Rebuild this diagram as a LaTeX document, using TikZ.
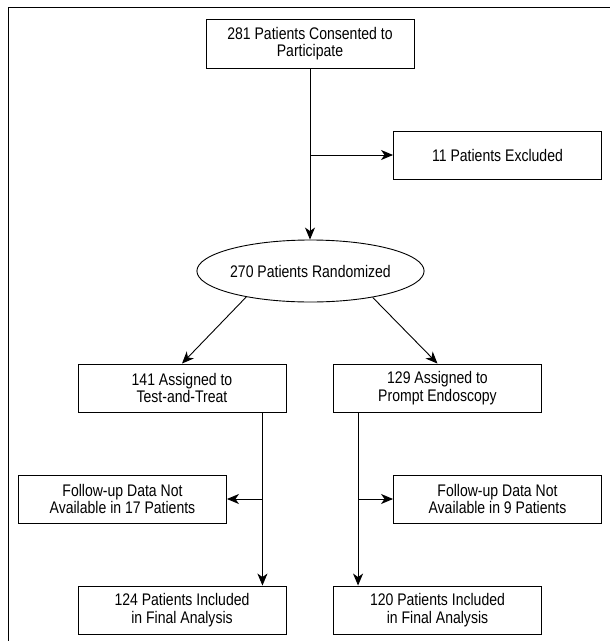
\documentclass[tikz,border=0pt]{standalone}
\usepackage{fontspec}
\setmainfont{Liberation Sans}[FakeStretch=0.835]
\usetikzlibrary{arrows.meta,shapes.geometric}
\begin{document}
\begin{tikzpicture}[x=1pt,y=-1pt,
  every node/.style={font=\fontsize{16.8}{17.6}\selectfont, align=center, inner sep=0pt},
  boxnode/.style={draw, line width=0.9pt, minimum width=208pt, minimum height=48pt},
  ovalnode/.style={draw, ellipse, line width=0.9pt, minimum width=209pt, minimum height=62pt},
  conn/.style={line width=0.9pt, -{Stealth[length=12pt,width=10pt,inset=3.5pt]}},
  frameline/.style={line width=1.3pt}]
\useasboundingbox (0,0) rectangle (610,641);
\draw[frameline] (8.8,641) -- (8.8,7.6) -- (610,7.6);

\node[boxnode, minimum height=49pt] (top) at (310,43.5) {281 Patients Consented to\\Participate};
\node[boxnode] (excl) at (497.5,155) {11 Patients Excluded};
\node[ovalnode] (rand) at (310.5,271) {270 Patients Randomized};
\node[boxnode] (b141) at (182,388) {141 Assigned to\\Test-and-Treat};
\node[boxnode] (b129) at (437.5,388) {129 Assigned to\\Prompt Endoscopy};
\node[boxnode] (f17) at (122.5,499) {Follow-up Data Not\\Available in 17 Patients};
\node[boxnode] (f9) at (497.5,499) {Follow-up Data Not\\Available in 9 Patients};
\node[boxnode] (i124) at (182,610) {124 Patients Included\\in Final Analysis};
\node[boxnode] (i120) at (437.5,610) {120 Patients Included\\in Final Analysis};

\coordinate (l1) at ([xshift=-24pt]b141.south east);
\coordinate (r1) at ([xshift=25pt]b129.south west);

\draw[conn] (top.south) -- (top.south |- rand.north);
\draw[conn] (top.south |- excl.west) -- (excl.west);
\draw[conn] (rand.202.5) -- (b141.north);
\draw[conn] (rand.337.5) -- (b129.north);
\draw[conn] (l1) -- (l1 |- i124.north);
\draw[conn] (l1 |- f17.east) -- (f17.east);
\draw[conn] (r1) -- (r1 |- i120.north);
\draw[conn] (r1 |- f9.west) -- (f9.west);
\end{tikzpicture}
\end{document}
